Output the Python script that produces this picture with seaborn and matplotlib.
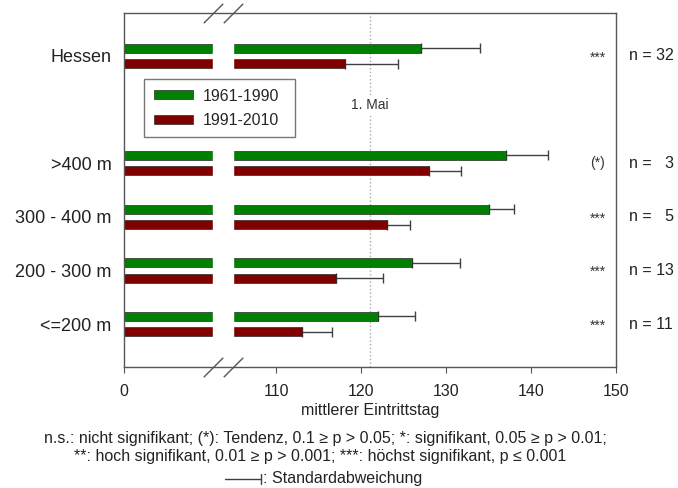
import numpy as np
import pandas as pd
import matplotlib
matplotlib.use("Agg")
import matplotlib.pyplot as plt
from matplotlib.lines import Line2D
import seaborn as sns

# data
regions = ["Hessen", ">400 m", "300 - 400 m", "200 - 300 m", "<=200 m"]
periods = ["1961-1990", "1991-2010"]
mean_early = [127.0, 137.0, 135.1, 126.0, 122.0]
mean_late = [118.1, 128.0, 123.0, 117.1, 113.0]
sd_early = [7.0, 5.0, 2.9, 5.7, 4.3]
sd_late = [6.3, 3.8, 2.8, 5.5, 3.6]
signif = ["***", "(*)", "***", "***", "***"]
n_stations = [32, 3, 5, 13, 11]
may_first = 121
x_ticks = [110, 120, 130, 140, 150]

df = pd.DataFrame({
    "region": regions * 2,
    "period": [periods[0]] * len(regions) + [periods[1]] * len(regions),
    "tag": mean_early + mean_late,
    "sd": sd_early + sd_late,
})

# empty slot between Hessen and the height classes (legend sits there)
order = [regions[0], " "] + regions[1:]

# broken axis: left edge stands for 0, gap hides the cut
x_zero = 92.1
gap_lo, gap_hi = 102.6, 104.9

sns.set_style("ticks")
plt.rcParams["font.family"] = ["Liberation Sans", "DejaVu Sans"]
grey = "#555555"

fig = plt.figure(figsize=(6.78, 4.88), dpi=100)
ax = fig.add_axes([124 / 678, 1 - 367 / 488, 492 / 678, 354 / 488])

sns.barplot(data=df, x="tag", y="region", hue="period", order=order,
            hue_order=periods, palette=["#008000", "#800000"], saturation=1,
            orient="h", width=0.58, gap=0.42, errorbar=None,
            edgecolor="#2a2a2a", linewidth=0.5, ax=ax)

# one-sided standard deviation whiskers
sd_lookup = {(r, p): s for r, p, s in zip(df.region, df.period, df.sd)}
for cont, p in zip(ax.containers, periods):
    for bar in cont:
        yc = bar.get_y() + bar.get_height() / 2
        r = order[int(round(yc))]
        ax.errorbar(bar.get_width(), yc, xerr=[[0], [sd_lookup[(r, p)]]],
                    fmt="none", ecolor="#404040", elinewidth=1,
                    capsize=3.6, capthick=1, zorder=0.8)

ax.axvspan(gap_lo, gap_hi, color="white", zorder=1.5)
ax.axvline(may_first, color="#aaaaaa", ls=":", lw=1, zorder=0.4)
ax.text(may_first, 0.92, "1. Mai", ha="center", va="center", fontsize=10,
        color="#333333", bbox=dict(fc="white", ec="none", pad=1), zorder=1)

ax.set_xlim(x_zero, 150)
ax.set_ylim(len(order) - 0.2, -0.8)
ax.set_xticks([x_zero] + x_ticks, ["0"] + [str(t) for t in x_ticks])
ax.tick_params(axis="x", length=4, pad=8, labelsize=11.5, color=grey,
               labelcolor="#222222")
ax.tick_params(axis="y", length=0, pad=9, labelsize=13, labelcolor="#222222")
ax.set_xlabel("mittlerer Eintrittstag", fontsize=11.5, labelpad=3,
              color="#222222")
ax.set_ylabel("")
for sp in ax.spines.values():
    sp.set_visible(True)
    sp.set_color(grey)
    sp.set_linewidth(1)

# break marks on top and bottom spine
ax.plot([gap_lo, gap_hi, gap_lo, gap_hi], [0, 0, 1, 1],
        marker=[(-1, -1), (1, 1)], markersize=14, linestyle="none",
        color=grey, mec=grey, mew=1, clip_on=False,
        transform=ax.get_xaxis_transform(), zorder=5)

handles, labels = ax.get_legend_handles_labels()
leg = ax.legend(handles, labels, loc="upper left", mode="expand",
                bbox_to_anchor=(0.0407, 0.0, 0.307, 0.8136), borderaxespad=0,
                frameon=True, fancybox=False, edgecolor="#777777",
                framealpha=1, fontsize=11.5, handlelength=2.45,
                handleheight=0.5, labelspacing=0.58, borderpad=0.6,
                handletextpad=0.6)
leg.set_zorder(6)

ty = ax.get_yaxis_transform()
for r, s, n in zip(regions, signif, n_stations):
    yc = order.index(r)
    star_y = yc + 0.03 if s == "***" else yc
    ax.text(0.963, star_y, s, transform=ty, ha="center", va="center",
            fontsize=10, color="#333333")
    label = f"n = {n}" if n >= 10 else f"n =   {n}"
    ax.text(1.026, yc, label, transform=ty, ha="left", va="center",
            fontsize=11.5, color="#222222", clip_on=False)

fs_note = 11.5
fig.text(325 / 678, 1 - 438 / 488,
         "n.s.: nicht signifikant; (*): Tendenz, 0.1 \u2265 p > 0.05; "
         "*: signifikant, 0.05 \u2265 p > 0.01;",
         ha="center", va="center", fontsize=fs_note, color="#222222")
fig.text(320 / 678, 1 - 457 / 488,
         "**: hoch signifikant, 0.01 \u2265 p > 0.001; "
         "***: h\u00f6chst signifikant, p \u2264 0.001",
         ha="center", va="center", fontsize=fs_note, color="#222222")
ly = 1 - 479 / 488
fig.add_artist(Line2D([225 / 678, 261 / 678], [ly, ly], color="#404040", lw=1))
fig.add_artist(Line2D([261 / 678, 261 / 678], [ly - 5 / 488, ly + 5 / 488],
                      color="#404040", lw=1))
fig.text(263 / 678, ly, ": Standardabweichung", ha="left", va="center",
         fontsize=fs_note, color="#222222")

fig.savefig("out.png", dpi=100)
